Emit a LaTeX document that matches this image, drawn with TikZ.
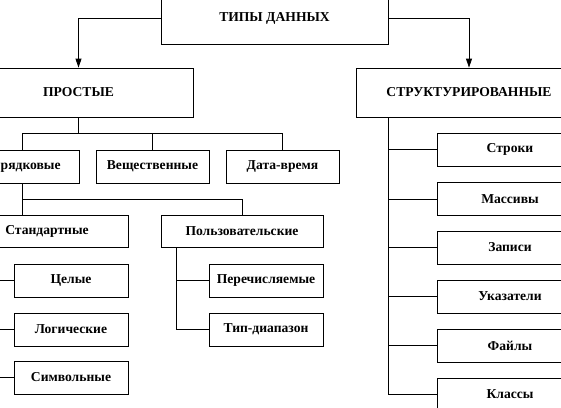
\documentclass[tikz,border=0pt]{standalone}
\usepackage{fontspec}
\setmainfont{Liberation Serif}
\usetikzlibrary{arrows.meta, positioning}

\begin{document}
\begin{tikzpicture}[x=1pt, y=-1pt, >={Triangle[length=9pt, width=6pt]},
		box/.style={draw, line width=0.8pt, inner sep=0pt, font=\fontsize{13.6}{15}\selectfont\bfseries},
		link/.style={line width=0.8pt}]
		
		% --- frame of the picture ---
		\path[use as bounding box, clip] (0,0) rectangle (561,407);
		
		% --- 1. TOP LEVEL ---
		\node[box, minimum width=227pt, minimum height=52pt] (types) at (274.5,18) {ТИПЫ ДАННЫХ};
		\node[box, minimum width=229pt, minimum height=49pt] (simple) at (78.5,92.5) {ПРОСТЫЕ};
		\node[box, minimum width=226pt, minimum height=49pt] (struct) at (469,92.5) {СТРУКТУРИРОВАННЫЕ};
		
		\draw[link, ->] (types.west) -| (simple.north);
		\draw[link, ->] (types.east) -| (struct.north);
		
		% --- 2. SIMPLE TYPES ---
		\node[box, minimum width=114pt, minimum height=33pt] (ordinal) at (22,166.5) {Порядковые};
		\node[box, minimum width=113pt, minimum height=33pt] (real) at (152.5,166.5) {Вещественные};
		\node[box, minimum width=113pt, minimum height=33pt] (datetime) at (282.5,166.5) {Дата-время};
		
		\coordinate (bus) at (0,133);
		\draw[link] (simple.south) -- (simple.south |- bus);
		\draw[link] (ordinal.north) |- (bus -| real.north) -- (real.north);
		\draw[link] (bus -| real.north) -| (datetime.north);
		
		% Ordinal: standard and user-defined
		\node[box, minimum width=162pt, minimum height=32pt] (standard) at (47,231) {Стандартные};
		\node[box, minimum width=162pt, minimum height=32pt] (user) at (242,231) {Пользовательские};
		
		\draw[link] (ordinal.south) -- (ordinal.south |- standard.north);
		\draw[link] (ordinal.south) -- ++(0,16) -| (user.north);
		
		% Standard children
		\node[box, minimum width=114pt, minimum height=33pt] (integer) at (71,280.5) {Целые};
		\node[box, minimum width=114pt, minimum height=33pt] (logical) at (71,329.5) {Логические};
		\node[box, minimum width=114pt, minimum height=33pt] (char) at (71,377.5) {Символьные};
		
		\coordinate (stdtrunk) at ([xshift=16pt]standard.south west);
		\foreach \n in {integer, logical, char}
		\draw[link] (stdtrunk) |- (\n.west);
		
		% User-defined children
		\node[box, minimum width=114pt, minimum height=33pt] (enum) at (266,280.5) {Перечисляемые};
		\node[box, minimum width=114pt, minimum height=33pt] (range) at (266,329.5) {Тип-диапазон};
		
		\coordinate (usertrunk) at ([xshift=16pt]user.south west);
		\foreach \n in {enum, range}
		\draw[link] (usertrunk) |- (\n.west);
		
		% --- 3. STRUCTURED TYPES ---
		\node[box, minimum width=146pt, minimum height=33pt] (strings) at (510,149.5) {Строки};
		\node[box, minimum width=146pt, minimum height=33pt] (arrays) at (510,199) {Массивы};
		\node[box, minimum width=146pt, minimum height=33pt] (records) at (510,247.5) {Записи};
		\node[box, minimum width=146pt, minimum height=33pt] (pointers) at (510,296.5) {Указатели};
		\node[box, minimum width=146pt, minimum height=33pt] (files) at (510,345.5) {Файлы};
		\node[box, minimum width=146pt, minimum height=33pt] (classes) at (510,394.5) {Классы};
		
		\coordinate (structtrunk) at ([xshift=33pt]struct.south west);
		\foreach \n in {strings, arrays, records, pointers, files, classes}
		\draw[link] (structtrunk) |- (\n.west);
		
	\end{tikzpicture}
\end{document}
